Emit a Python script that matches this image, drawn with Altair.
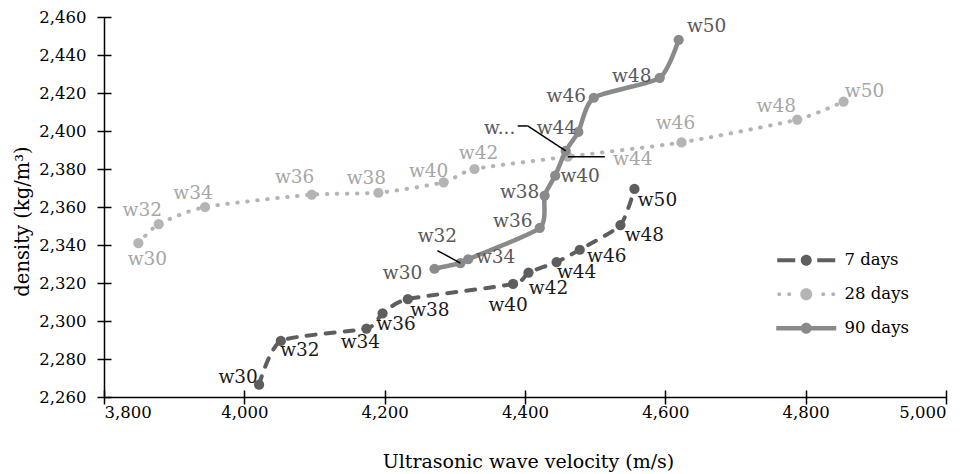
import altair as alt
import pandas as pd

FONT = "DejaVu Serif"

# Curing-age labels shared by every series
ages = ["w30", "w32", "w34", "w36", "w38", "w40", "w42", "w44", "w46", "w48", "w50"]
series_names = ["7 days", "28 days", "90 days"]

# Ultrasonic wave velocity (m/s) and density (kg/m3) per curing period
vel_7 = [4021, 4052, 4174, 4197, 4233, 4383, 4405, 4445, 4478, 4536, 4556]
den_7 = [2266.5, 2289.5, 2296, 2304, 2311.5, 2319.5, 2325.5, 2331, 2337.5, 2350.5, 2369.5]

vel_28 = [3849, 3878, 3944, 4096, 4191, 4284, 4328, 4461, 4623, 4788, 4854]
den_28 = [2341, 2351, 2360, 2366.5, 2367.5, 2373, 2380, 2386.5, 2394, 2406, 2415.5]

vel_90 = [4271, 4308, 4319, 4421, 4428, 4443, 4458, 4476, 4498, 4592, 4619]
den_90 = [2327.5, 2330.5, 2332.5, 2349, 2366, 2376.5, 2389.5, 2399.5, 2417.5, 2428, 2448]

labels_7 = ages
labels_28 = ages
labels_90 = ["w30", "w32", "w34", "w36", "w38", "w40", "w...", "w44", "w46", "w48", "w50"]

# Data-label placement, pixel offsets from each marker
lab_off_7 = [(-21, -8), (19, 9), (-6, 13), (13.5, 11), (22, 10.5), (-5, 21),
             (20, 15), (20, 10), (27, 6.5), (24, 10), (23, 11)]
lab_off_28 = [(9, 15.5), (-16.5, -14), (-12, -14), (-17, -18), (-12, -14.5), (-15, -11),
              (4, -16.5), (65, 2), (-6, -19), (-21, -14), (21, -10.5)]
lab_off_90 = [(-32, 4), (-23, -27.5), (27.5, -2), (-27, -7), (-25, -4), (25, 0),
              (-66, -23), (-22, -4), (-27.5, -2), (-28, -2), (28, -13.5)]

line_colors = {"7 days": "#5e5e5e", "28 days": "#b4b4b4", "90 days": "#8a8a8a"}
label_colors = {"7 days": "#1a1a1a", "28 days": "#a6a6a6", "90 days": "#595959"}
dashes = {"7 days": [9, 10], "28 days": [0.5, 9.5], "90 days": [1, 0]}

rows = []
for name, vel, den, labs, offs in [
    ("7 days", vel_7, den_7, labels_7, lab_off_7),
    ("28 days", vel_28, den_28, labels_28, lab_off_28),
    ("90 days", vel_90, den_90, labels_90, lab_off_90),
]:
    for i, (v, d, lab, (ox, oy)) in enumerate(zip(vel, den, labs, offs)):
        rows.append({"series": name, "idx": i, "v": v, "d": d,
                     "label": lab, "ldx": ox, "ldy": oy})
df = pd.DataFrame(rows)

x_scale = alt.Scale(domain=[3800, 5000], nice=False, zero=False)
y_scale = alt.Scale(domain=[2260, 2460], nice=False, zero=False)
x_vals = list(range(3800, 5001, 200))
y_vals = list(range(2260, 2461, 20))

main_x_axis = alt.Axis(
    values=x_vals, format=",d", grid=False, ticks=False, orient="bottom",
    domainColor="#000000", domainWidth=1.5,
    labelFont=FONT, labelFontSize=16.5, labelColor="#000000", labelPadding=7,
    title="Ultrasonic wave velocity (m/s)", titleFont=FONT, titleFontSize=19,
    titleFontWeight="normal", titleColor="#000000",
    titleX=424, titleY=70, titleAlign="center", titleBaseline="alphabetic",
)
main_y_axis = alt.Axis(
    values=y_vals, format=",d", grid=False, ticks=False, orient="left",
    domainColor="#000000", domainWidth=1.5,
    labelFont=FONT, labelFontSize=16.5, labelColor="#000000", labelPadding=18,
    title="density (kg/m³)", titleFont=FONT, titleFontSize=19.5,
    titleFontWeight="normal", titleColor="#000000", titleAngle=270,
    titleX=-76, titleY=204, titleAlign="center", titleBaseline="alphabetic",
)
# Cross-style tick marks straddling the axis lines
tick_x_axis = alt.Axis(values=x_vals, orient="bottom", offset=-7, tickSize=14,
                       tickWidth=1.5, tickColor="#000000", domain=False,
                       labels=False, grid=False, title=None)
tick_y_axis = alt.Axis(values=y_vals, orient="left", offset=-7, tickSize=14,
                       tickWidth=1.5, tickColor="#000000", domain=False,
                       labels=False, grid=False, title=None)

base = alt.Chart(df)

def xy(x_axis=None, y_axis=None):
    return dict(
        x=alt.X("v:Q", scale=x_scale, axis=x_axis),
        y=alt.Y("d:Q", scale=y_scale, axis=y_axis),
    )

layers = []
for k, name in enumerate(series_names):
    sub = base.transform_filter(alt.datum.series == name)
    axes = (main_x_axis, main_y_axis) if k == 0 else (None, None)
    line = sub.mark_line(
        interpolate="cardinal", tension=0.4, color=line_colors[name],
        strokeWidth=4 if name != "90 days" else 4.5,
        strokeDash=dashes[name], strokeCap="round",
    ).encode(order="idx:Q", **xy(*axes))
    pts = sub.mark_circle(size=105, color=line_colors[name], opacity=1).encode(**xy())
    layers += [line, pts]

# Leader lines from crowded labels to their markers
leaders = [
    ("90 days", 1, (0, 0), (-23, -12.5)),
    ("90 days", 6, (0, 0), (-38, -25)),
    ("90 days", 6, (-38, -25), (-48, -25)),
    ("28 days", 7, (0, 0), (37, 0)),
]
for name, i, (x0, y0), (x1, y1) in leaders:
    layers.append(
        base.transform_filter((alt.datum.series == name) & (alt.datum.idx == i))
        .mark_rule(color="#000000", strokeWidth=1.5,
                   xOffset=x0, yOffset=y0, x2Offset=x1, y2Offset=y1)
        .encode(x2=alt.X2("v:Q"), y2=alt.Y2("d:Q"), **xy())
    )

for name in series_names:
    layers.append(
        base.transform_filter(alt.datum.series == name)
        .mark_text(font=FONT, fontSize=18.5, color=label_colors[name],
                   align="center", baseline="middle",
                   dx={"expr": "datum.ldx"}, dy={"expr": "datum.ldy"})
        .encode(text="label:N", **xy())
    )

# Legend symbols: dashed / dotted / solid line with a round marker
legend_shapes = [
    "M-5.8,-0.4H-2.2V0.4H-5.8Z M2.2,-0.4H5.8V0.4H2.2Z "
    "M-1.1,0A1.1,1.1,0,1,1,1.1,0A1.1,1.1,0,1,1,-1.1,0Z",
    "M-5.8,0A0.4,0.4,0,1,1,-5.0,0A0.4,0.4,0,1,1,-5.8,0Z "
    "M-3.8,0A0.4,0.4,0,1,1,-3.0,0A0.4,0.4,0,1,1,-3.8,0Z "
    "M3.0,0A0.4,0.4,0,1,1,3.8,0A0.4,0.4,0,1,1,3.0,0Z "
    "M5.0,0A0.4,0.4,0,1,1,5.8,0A0.4,0.4,0,1,1,5.0,0Z "
    "M-1.2,0A1.2,1.2,0,1,1,1.2,0A1.2,1.2,0,1,1,-1.2,0Z",
    "M-6,-0.45H-1V0.45H-6Z M1,-0.45H6V0.45H1Z "
    "M-1.1,0A1.1,1.1,0,1,1,1.1,0A1.1,1.1,0,1,1,-1.1,0Z",
]
legend = alt.Legend(
    title=None, orient="none", legendX=694, legendY=235, padding=0,
    symbolSize=100, symbolOpacity=1, symbolStrokeWidth=0,
    labelFont=FONT, labelFontSize=16.5, labelColor="#000000",
    labelOffset=30, rowPadding=17,
)
layers.append(
    base.mark_point(filled=True, opacity=0).encode(
        color=alt.Color("series:N", sort=series_names, legend=legend,
                        scale=alt.Scale(domain=series_names,
                                        range=[line_colors[s] for s in series_names])),
        shape=alt.Shape("series:N", sort=series_names, legend=legend,
                        scale=alt.Scale(domain=series_names, range=legend_shapes)),
        **xy(tick_x_axis, tick_y_axis),
    )
)

chart = (
    alt.layer(*layers)
    .resolve_axis(x="independent", y="independent")
    .properties(
        width=842, height=380,
        autosize=alt.AutoSizeParams(type="none"),
        padding={"left": 104, "top": 17, "right": 31, "bottom": 77},
        background="#ffffff",
    )
    .configure_view(stroke=None)
)

chart.save("out.html", embed_options={"renderer": "svg", "actions": False})
